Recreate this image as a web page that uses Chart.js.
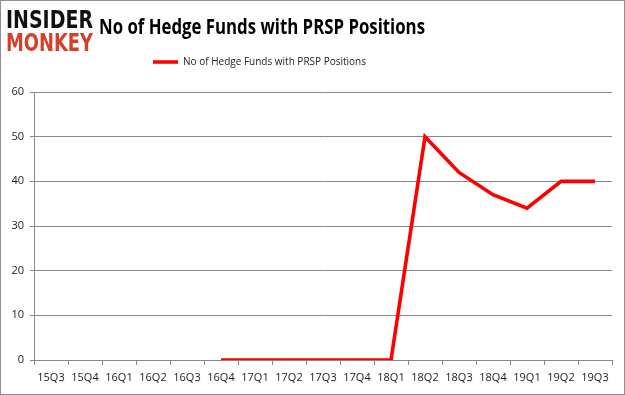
<!DOCTYPE html>
<html><head><meta charset="utf-8">
<script src="https://cdn.jsdelivr.net/npm/chart.js@4"></script>
<style>
html,body{margin:0;padding:0;background:#fff;}
#wrap{position:relative;width:625px;height:395px;box-sizing:border-box;border:1px solid #8f8f8f;overflow:hidden;}
#c{position:absolute;left:0;top:0;}
#hdr{position:absolute;left:0;top:0;}
</style></head>
<body>
<div id="wrap">
<canvas id="c" width="625" height="395"></canvas>
<svg id="hdr" width="625" height="60">
  <text x="5" y="27" textLength="87" lengthAdjust="spacingAndGlyphs" font-family="DejaVu Sans" font-weight="900" font-size="25" fill="#111">INSIDER</text>
  <text x="5" y="50" textLength="87" lengthAdjust="spacingAndGlyphs" font-family="DejaVu Sans" font-weight="900" font-size="25" fill="#d4402a">MONKEY</text>
  <text x="98" y="33" textLength="326" lengthAdjust="spacingAndGlyphs" font-family="Open Sans" font-weight="700" font-size="22" fill="#000">No of Hedge Funds with PRSP Positions</text>
</svg>
</div>
<script>
const categories = ["15Q3","15Q4","16Q1","16Q2","16Q3","16Q4","17Q1","17Q2","17Q3","17Q4","18Q1","18Q2","18Q3","18Q4","19Q1","19Q2","19Q3"];
const hedgeFunds = [null,null,null,null,null,0,0,0,0,0,0,50,42,37,34,40,40];
const yTicks = [0,10,20,30,40,50,60];
const seriesName = "No of Hedge Funds with PRSP Positions";

const legendTweak = {
  id: 'legendTweak',
  afterInit(chart) {
    const lg = chart.legend;
    if (!lg) return;
    const fit = lg.fit;
    lg.fit = function () { fit.call(this); this.height += 15; };
    const draw = lg.draw;
    lg.draw = function () {
      const ctx = this.ctx;
      ctx.save();
      ctx.translate(-47, 0);
      draw.call(this);
      ctx.restore();
    };
  }
};

new Chart(document.getElementById('c'), {
  type: 'line',
  data: {
    labels: categories,
    datasets: [{
      label: seriesName,
      data: hedgeFunds,
      borderColor: '#ff0000',
      backgroundColor: '#ff0000',
      borderWidth: 3.6,
      pointRadius: 0,
      tension: 0,
      spanGaps: false
    }]
  },
  plugins: [legendTweak],
  options: {
    responsive: false,
    animation: false,
    devicePixelRatio: 1,
    layout: { padding: { top: 46, right: 14, bottom: 4, left: 0 } },
    plugins: {
      legend: {
        display: true,
        position: 'top',
        labels: {
          usePointStyle: true,
          pointStyle: 'line',
          pointStyleWidth: 25,
          boxHeight: 4,
          color: '#222',
          font: { family: 'Open Sans', size: 10 },
          padding: 10
        }
      },
      tooltip: { enabled: false }
    },
    scales: {
      x: {
        offset: true,
        grid: { offset: true, drawOnChartArea: false, drawTicks: true, tickLength: 5, color: '#888' },
        border: { color: '#888', width: 1 },
        ticks: { color: '#222', font: { family: 'Open Sans', size: 11 }, maxRotation: 0, autoSkip: false, padding: 6 },
        afterFit: s => { s.height = 32; }
      },
      y: {
        min: 0, max: 60,
        afterBuildTicks: s => { s.ticks = yTicks.map(v => ({ value: v })); },
        grid: { color: '#888', drawTicks: true, tickLength: 4 },
        border: { color: '#888', width: 1 },
        ticks: { color: '#222', font: { family: 'Open Sans', size: 11 }, padding: 6 },
        afterFit: s => { s.width = 33; }
      }
    }
  }
});
</script>
</body></html>
